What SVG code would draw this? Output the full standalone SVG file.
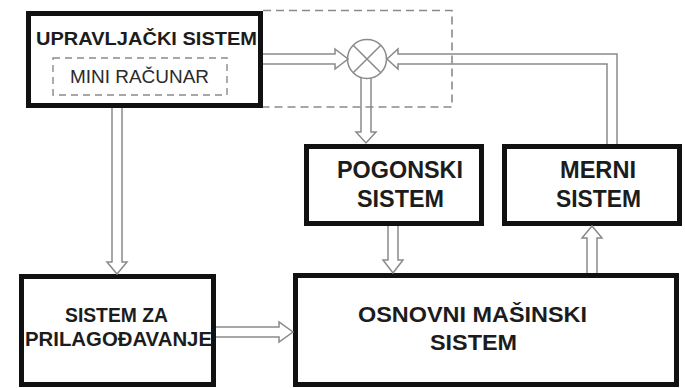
<svg xmlns="http://www.w3.org/2000/svg" width="685" height="388" viewBox="0 0 685 388">
<style>
.box{fill:#fff;stroke:#111;stroke-width:5}
.dash{fill:none;stroke:#8a8a8a;stroke-width:1.6;stroke-dasharray:8 5}
.dash2{fill:none;stroke:#8a8a8a;stroke-width:1.4;stroke-dasharray:7 5}
.conn{fill:none;stroke:#8a8a8a;stroke-width:1.5;stroke-linejoin:miter}
.t{font-family:"Liberation Sans",Arial,sans-serif;font-weight:bold;fill:#1c1c1c;text-anchor:middle}
.r{font-family:"Liberation Sans",Arial,sans-serif;fill:#2a2a2a;text-anchor:middle}
</style>
<rect width="685" height="388" fill="#fff"/>
<path class="dash" d="M263,10.5 H452 V107 H263"/>
<g id="upravljacki">
<rect class="box" x="28.5" y="13.5" width="232" height="92"/>
<text class="t" x="146.5" y="45" font-size="18" textLength="221" lengthAdjust="spacingAndGlyphs">UPRAVLJAČKI SISTEM</text>
<g id="mini">
<rect class="dash2" x="53" y="58" width="174" height="37"/>
<text class="r" x="139.5" y="83" font-size="18" textLength="139" lengthAdjust="spacingAndGlyphs">MINI RAČUNAR</text>
</g>
</g>
<g id="sabirac">
<circle cx="367" cy="59" r="19.5" fill="#fff" stroke="#8a8a8a" stroke-width="1.5"/>
<path class="conn" d="M353.2,45.2 L380.8,72.8 M380.8,45.2 L353.2,72.8"/>
</g>
<g id="pogonski">
<rect class="box" x="306.5" y="146.5" width="175" height="77"/>
<text class="t" x="400" y="178" font-size="23" textLength="126" lengthAdjust="spacingAndGlyphs">POGONSKI</text>
<text class="t" x="400.5" y="207" font-size="23" textLength="87" lengthAdjust="spacingAndGlyphs">SISTEM</text>
</g>
<g id="merni">
<rect class="box" x="504.5" y="146.5" width="175" height="77"/>
<text class="t" x="598" y="178" font-size="23" textLength="76" lengthAdjust="spacingAndGlyphs">MERNI</text>
<text class="t" x="598.5" y="207" font-size="23" textLength="85" lengthAdjust="spacingAndGlyphs">SISTEM</text>
</g>
<g id="prilagodjavanje">
<rect class="box" x="21.5" y="276.5" width="192" height="108"/>
<text class="t" x="116.5" y="322" font-size="19.5" textLength="103" lengthAdjust="spacingAndGlyphs">SISTEM ZA</text>
<text class="t" x="118.5" y="346" font-size="19.5" textLength="187" lengthAdjust="spacingAndGlyphs">PRILAGOĐAVANJE</text>
</g>
<g id="osnovni">
<rect class="box" x="295.5" y="275.5" width="381" height="109"/>
<text class="t" x="472.5" y="322" font-size="22" textLength="229" lengthAdjust="spacingAndGlyphs">OSNOVNI MAŠINSKI</text>
<text class="t" x="473.5" y="350" font-size="22" textLength="87" lengthAdjust="spacingAndGlyphs">SISTEM</text>
</g>
<g id="connectors">
<path class="conn" d="M263,54 H335 V49 L348,59 L335,69 V64 H263"/>
<path class="conn" d="M617,144 V54 H398 V49 L387,59 L398,69 V64 H607 V144"/>
<path class="conn" d="M361,77.5 V132 H356 L366,143 L376,132 H371 V77.5"/>
<path class="conn" d="M388,226 V260 H383 L393,273 L403,260 H398 V226"/>
<path class="conn" d="M587,273 V238 H582 L592,226 L602,238 H597 V273"/>
<path class="conn" d="M112,108 V262 H107 L117,274 L127,262 H122 V108"/>
<path class="conn" d="M216,327 H279 V322 L293,332 L279,342 V337 H216"/>
</g>
</svg>
